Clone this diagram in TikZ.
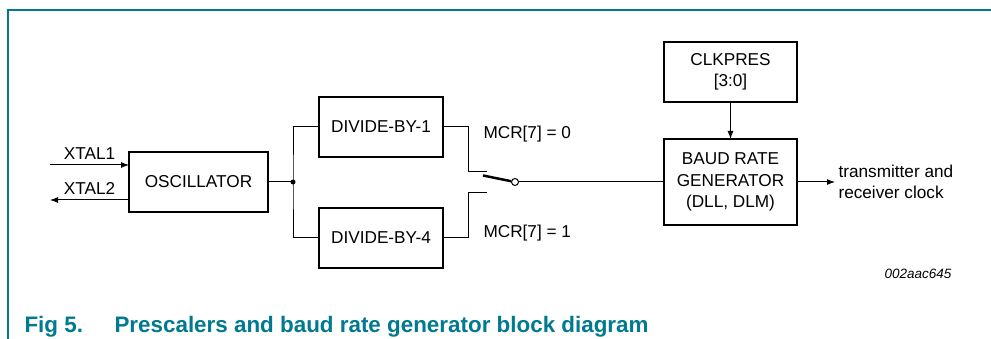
\documentclass[tikz,border=0pt]{standalone}
\usepackage{xcolor}
\usepackage{fontspec}
\setmainfont{Liberation Sans}
\usepackage{tikz}
\usetikzlibrary{positioning,arrows.meta}
\definecolor{nxpteal}{RGB}{0,121,145}

\begin{document}
\begin{tikzpicture}[x=1pt, y=-1pt,
  block/.style={draw, line width=2.5, outer sep=0, inner sep=0, minimum height=60pt, text centered, align=center, font=\fontsize{17.2}{21.5}\selectfont},
  wire/.style={line width=1},
  lbl/.style={font=\fontsize{17.2}{21}\selectfont},
  caption/.style={font=\fontsize{22.4}{26}\selectfont\bfseries, text=nxpteal, anchor=base west},
  >={Latex[length=8pt,width=6pt]}]

% frame %
\useasboundingbox (0,0) rectangle (991,339);
\draw[nxpteal, line width=1.5] (8,339) -- (8,10) -- (991,10);

% nodes %
\node[block, minimum width=139pt] (osc) at (198.5,182) {OSCILLATOR};
\node[block, minimum width=124pt, right = 51pt of osc, yshift=55pt] (div1) {DIVIDE-BY-1};
\node[block, minimum width=124pt, below = 51pt of div1] (div4) {DIVIDE-BY-4};
\node[draw, circle, line width=1, fill=white, inner sep=0, minimum size=7pt] (sw) at (515,182) {};
\node[block, minimum width=133pt, minimum height=86pt, right = 145pt of sw] (brg) {BAUD RATE\\GENERATOR\\(DLL, DLM)};
\node[block, minimum width=133pt, above = 37pt of brg] (clk) {CLKPRES\\{[3:0]}};
\node[lbl, align=left, right = 38pt of brg] (txrx) {transmitter and\\receiver clock};
\node[lbl, anchor=west] (mcr0) at (480,134) {MCR[7] = 0};
\node[lbl, anchor=west] (mcr1) at (480,233) {MCR[7] = 1};
\node[font=\fontsize{13.5}{16}\selectfont\itshape, anchor=east] (figid) at (955,274) {002aac645};
\node[caption] (fignum) at (21,332) {Fig 5.};
\node[caption] (figtitle) at (111,332) {Prescalers and baud rate generator block diagram};

\coordinate (xt1) at (50,165);
\coordinate (xt2) at (50,200);
\coordinate (jn) at (293,182);
\coordinate (c0) at (487,172);
\coordinate (c1) at (487,193);
\coordinate (tip) at (483,175.5);

% edges %
\draw[wire, ->] (xt1) -- (xt1 -| osc.west) node[midway, above=2pt, lbl] {XTAL1};
\draw[wire, ->] (xt2 -| osc.west) -- (xt2) node[midway, above=2pt, lbl] {XTAL2};
\draw[wire] (osc) -- (jn);
\fill (jn) circle (2.5pt);
\draw[wire] (div1.west) -| (jn) |- (div4.west);
\draw[wire] (div1.east) -- ++(25,0) |- (c0);
\draw[wire] (div4.east) -- ++(25,0) |- (c1);
\draw[line width=2.5] (tip) -- (sw);
\draw[wire] (sw) -- (brg);
\draw[wire, ->] (clk) -- (brg);
\draw[wire, ->] (brg) -- (txrx);

\end{tikzpicture}
\end{document}
